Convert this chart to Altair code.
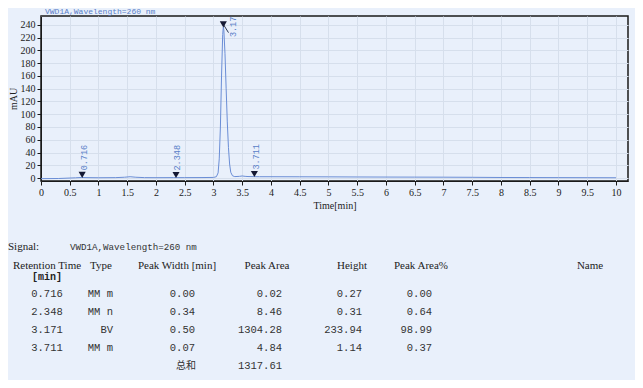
import altair as alt
import pandas as pd

# ---- chromatogram signal ----
time_min = [0.0, 0.3, 0.6, 0.7, 0.8, 1.0, 1.3, 1.45, 1.55, 1.65, 1.8, 2.0, 2.3, 2.5, 2.8, 3.0,
            3.05, 3.08, 3.10, 3.12, 3.14, 3.16, 3.171, 3.18, 3.20, 3.22, 3.24, 3.26, 3.28, 3.30,
            3.33, 3.37, 3.45, 3.5, 3.55, 3.6, 3.711, 3.8, 4.0, 4.5, 5.0, 5.5, 6.0, 6.5, 7.0,
            7.5, 8.0, 8.5, 9.0, 9.5, 10.0]
signal_mau = [-1.0, -0.8, 0.3, 0.8, 0.6, 0.4, 0.6, 1.2, 2.0, 1.2, 0.6, 0.5, 0.6, 0.6, 0.7, 0.9,
              2.0, 8.0, 30.0, 80.0, 160.0, 225.0, 237.0, 232.0, 195.0, 140.0, 88.0, 48.0, 22.0, 9.0,
              3.5, 2.2, 2.6, 3.2, 2.6, 2.3, 2.1, 2.0, 2.0, 1.9, 1.8, 1.6, 1.5, 1.4, 1.3,
              1.1, 0.8, 0.7, 0.6, 0.5, 0.4]

# ---- peak markers ----
peak_times = [0.716, 2.348, 3.171, 3.711]
peak_apex = [1.0, 0.8, 237.0, 2.2]
peak_labels = ["0.716", "2.348", "3.171", "3.711"]

# ---- results table ----
tbl_rt = ["0.716", "2.348", "3.171", "3.711"]
tbl_type = ["MM m", "MM n", "BV", "MM m"]
tbl_width = ["0.00", "0.34", "0.50", "0.07"]
tbl_area = ["0.02", "8.46", "1304.28", "4.84"]
tbl_height = ["0.27", "0.31", "233.94", "1.14"]
tbl_pct = ["0.00", "0.64", "98.99", "0.37"]
total_label = "总和"
total_area = "1317.61"
signal_name = "VWD1A,Wavelength=260 nm"
headers = ["Retention Time", "Type", "Peak Width [min]", "Peak Area", "Height", "Peak Area%", "Name"]
x_ticks = [i * 0.5 for i in range(21)]
y_ticks = list(range(0, 260, 20))

BG = "#E9F0FB"
LINE = "#6B8ED6"
LABEL_BLUE = "#5A80C8"
DARK = "#222222"
SERIF = "Liberation Serif"
MONO = "Liberation Mono"

X_DOM = [0, 10.209]
Y_DOM = [-4.7, 254.1]

sig = pd.DataFrame({"t": time_min, "v": signal_mau})

pk = pd.DataFrame({"t": peak_times, "apex": peak_apex, "label": peak_labels})
pk["marker"] = pk["apex"] + 4
big = pk["apex"] > 200
pk["lab_t"] = pk["t"] + big.map({True: 0.16, False: 0.025})
pk["lab_y"] = (pk["apex"] + 11).clip(upper=221)
pk["lead_t"] = pk["t"] + big.map({True: 0.09, False: 0.0})
pk["lead_y"] = pk["marker"].where(~big, pk["marker"] - 13)

xs = alt.Scale(domain=X_DOM, nice=False, zero=False)
ys = alt.Scale(domain=Y_DOM, nice=False, zero=False)
x_axis = alt.Axis(values=x_ticks, tickCount=100, format="~g", title="Time[min]",
                  grid=True, tickSize=4, labelPadding=2, titlePadding=3,
                  labelOverlap=False, labelFlush=False)
y_axis = alt.Axis(values=y_ticks, tickCount=100, title="mAU", grid=True,
                  tickSize=4, labelPadding=2, titlePadding=2,
                  labelOverlap=False, labelFlush=False)

line = alt.Chart(sig).mark_line(color=LINE, strokeWidth=1).encode(
    x=alt.X("t:Q", scale=xs, axis=x_axis),
    y=alt.Y("v:Q", scale=ys, axis=y_axis),
)

leader = alt.Chart(pk[big]).mark_rule(color="#2a3550", strokeWidth=1).encode(
    x=alt.X("t:Q", scale=xs, axis=x_axis), y=alt.Y("marker:Q", scale=ys, axis=y_axis),
    x2="lead_t:Q", y2="lead_y:Q",
)

markers = alt.Chart(pk).mark_point(shape="triangle-down", filled=True, size=50,
                                   color="#141833", opacity=1).encode(
    x=alt.X("t:Q", scale=xs, axis=x_axis), y=alt.Y("marker:Q", scale=ys, axis=y_axis),
)

labels = alt.Chart(pk).mark_text(angle=270, align="left", baseline="middle", font=MONO,
                                 fontSize=8.5, color=LABEL_BLUE, clip=True).encode(
    x=alt.X("lab_t:Q", scale=xs, axis=x_axis), y=alt.Y("lab_y:Q", scale=ys, axis=y_axis),
    text="label:N",
)

chrom = alt.layer(line, leader, markers, labels)

# ---- table layers ----
rows = pd.DataFrame({"row": list(range(4)), "rt": tbl_rt, "type": tbl_type, "w": tbl_width,
                     "area": tbl_area, "h": tbl_height, "pct": tbl_pct})
rs = alt.Scale(domain=[0, 4], range=[278, 350], nice=False, zero=False)


def col(field, xpos, align):
    return alt.Chart(rows).mark_text(align=align, baseline="middle", font=MONO,
                                     fontSize=10.5, color="#333333").encode(
        x=alt.value(xpos), y=alt.Y("row:Q", scale=rs, axis=None), text=f"{field}:N")


def fixed(txt, xpos, ypos, font, size, align="center", color=DARK, weight="normal"):
    return alt.Chart(rows.head(1)).mark_text(align=align, baseline="middle", font=font,
                                             fontSize=size, color=color, fontWeight=weight).encode(
        x=alt.value(xpos), y=alt.value(ypos), text=alt.value(txt))


tot = pd.DataFrame({"row": [4], "lab": [total_label], "val": [total_area]})
total_lab = alt.Chart(tot).mark_text(align="right", baseline="middle", font="Noto Sans CJK SC",
                                     fontSize=10, color="#333333").encode(
    x=alt.value(155), y=alt.Y("row:Q", scale=rs, axis=None), text="lab:N")
total_val = alt.Chart(tot).mark_text(align="right", baseline="middle", font=MONO,
                                     fontSize=10.5, color="#333333").encode(
    x=alt.value(241), y=alt.Y("row:Q", scale=rs, axis=None), text="val:N")

head_x = [6, 60, 136, 226, 311, 380, 549]
table = alt.layer(
    fixed(signal_name, 4, -4, MONO, 8, align="left", color=LABEL_BLUE),
    fixed("Signal:", -33, 231, SERIF, 11, align="left"),
    fixed(signal_name, 29, 231, MONO, 9.2, align="left", color="#333333"),
    *[fixed(h, hx, 250, SERIF, 11) for h, hx in zip(headers, head_x)],
    fixed("[min]", 6, 261, MONO, 10, weight="bold"),
    col("rt", 6, "center"),
    col("type", 72, "right"),
    col("w", 154, "right"),
    col("area", 241, "right"),
    col("h", 321, "right"),
    col("pct", 391, "right"),
    total_lab,
    total_val,
)

chart = alt.layer(chrom, table).resolve_scale(y="independent").properties(
    width=587, height=165,
    autosize=alt.AutoSizeParams(type="none"),
    padding={"left": 33, "top": 8, "right": 7, "bottom": 199},
    background=BG,
).configure_view(
    fill=BG, stroke="#1a1a1a", strokeWidth=1.5,
).configure_axis(
    labelFont=SERIF, labelFontSize=10, labelColor=DARK,
    titleFont=SERIF, titleFontSize=10, titleColor=DARK, titleFontWeight="normal",
    domainColor="#1a1a1a", tickColor="#1a1a1a", gridColor="#D6DFEC", gridWidth=1,
)

chart.save("out.html", embed_options={"renderer": "svg", "actions": False})
